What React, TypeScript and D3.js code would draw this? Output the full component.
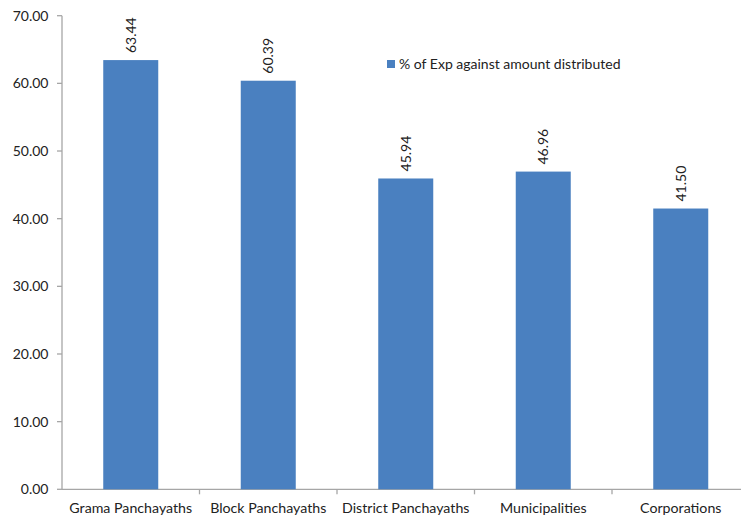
import React from "react";
import * as d3 from "d3";

const categories = ["Grama Panchayaths", "Block Panchayaths", "District Panchayaths", "Municipalities", "Corporations"];
const values = [63.44, 60.39, 45.94, 46.96, 41.5];
const yTicks = [0, 10, 20, 30, 40, 50, 60, 70];
const seriesName = "% of Exp against amount distributed";

const W = 741, H = 515;
const left = 62, zeroY = 489.3, topY = 15.7;
const bandW = 137.5;
const font = "Lato, 'Open Sans', sans-serif";
const axisColor = "#a6a6a6";
const barColor = "#4a80c0";

export default function App() {
  const x = d3.scaleBand<string>().domain(categories).range([left, left + bandW * categories.length]).paddingInner(0.6).paddingOuter(0.3);
  const y = d3.scaleLinear().domain([0, 70]).range([zeroY, topY]);
  return (
    <svg width={W} height={H} style={{ position: "absolute", left: 0, top: 0, background: "#fff" }} fontFamily={font}>
      <line x1={left} x2={left} y1={topY} y2={zeroY} stroke={axisColor} strokeWidth={1.3} />
      <line x1={left} x2={W} y1={zeroY} y2={zeroY} stroke={axisColor} strokeWidth={1.3} />
      {yTicks.map((t) => (
        <g key={t}>
          <line x1={left - 5} x2={left} y1={y(t)} y2={y(t)} stroke={axisColor} strokeWidth={1.3} />
          <text x={48.5} y={y(t)} dy="0.35em" textAnchor="end" fontSize={14} fill="#222">{t.toFixed(2)}</text>
        </g>
      ))}
      {categories.map((c, i) => (
        <line key={"t" + i} x1={left + bandW * (i + 1)} x2={left + bandW * (i + 1)} y1={zeroY} y2={zeroY + 5} stroke={axisColor} strokeWidth={1.3} />
      ))}
      {categories.map((c, i) => {
        const cx = (x(c) as number) + x.bandwidth() / 2;
        return (
          <g key={c}>
            <rect x={x(c)} y={y(values[i])} width={x.bandwidth()} height={zeroY - y(values[i])} fill={barColor} />
            <text transform={`translate(${cx + 5},${y(values[i]) - 7}) rotate(-90)`} fontSize={14} fill="#222">{values[i].toFixed(2)}</text>
            <text x={cx} y={513} textAnchor="middle" fontSize={14.2} fill="#222">{c}</text>
          </g>
        );
      })}
      <rect x={387} y={60} width={8} height={8} fill={barColor} />
      <text x={399} y={68.5} fontSize={14} fill="#222">{seriesName}</text>
    </svg>
  );
}
